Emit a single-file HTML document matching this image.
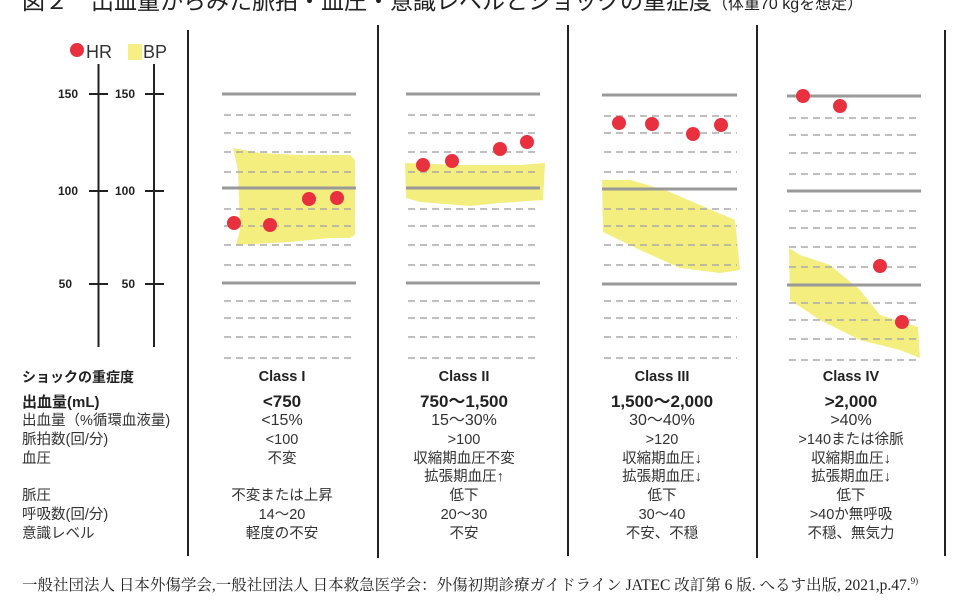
<!DOCTYPE html>
<html><head><meta charset="utf-8"><style>
body{margin:0;width:960px;height:600px;overflow:hidden;background:#fff;position:relative;font-family:"Liberation Sans","Noto Sans CJK JP",sans-serif;color:#222}
.t{position:absolute;white-space:nowrap}
.c{position:absolute;text-align:center;width:180px;font-size:14.5px;line-height:19px;color:#333}
.l{position:absolute;left:22px;font-size:14.5px;color:#333;line-height:19px}
</style></head><body>
<div class="t" style="left:22px;top:-18px;font-size:23px;color:#222">図２　出血量からみた脈拍・血圧・意識レベルとショックの重症度<span style="font-size:16px">（体重70 kgを想定）</span></div>
<svg width="960" height="600" style="position:absolute;left:0;top:0">
<g stroke="#222" stroke-width="2">
<line x1="188" y1="30" x2="188" y2="556"/><line x1="378" y1="25" x2="378" y2="558"/>
<line x1="568" y1="25" x2="568" y2="556"/><line x1="757" y1="25" x2="757" y2="558"/>
<line x1="945" y1="30" x2="945" y2="556"/>
<line x1="98.5" y1="64" x2="98.5" y2="347"/><line x1="154" y1="64" x2="154" y2="347"/>
<line x1="89" y1="94" x2="108" y2="94"/><line x1="89" y1="191" x2="108" y2="191"/><line x1="89" y1="284" x2="108" y2="284"/>
<line x1="145" y1="94" x2="164" y2="94"/><line x1="145" y1="191" x2="164" y2="191"/><line x1="145" y1="284" x2="164" y2="284"/>
</g>
<g font-size="12" font-weight="bold" fill="#222" text-anchor="end" font-family="Liberation Sans,sans-serif">
<text x="78" y="98">150</text><text x="78" y="195">100</text><text x="72" y="288">50</text>
<text x="135" y="98">150</text><text x="135" y="195">100</text><text x="135" y="288">50</text>
</g>
<circle cx="77" cy="50" r="7" fill="#e8303f"/>
<text x="86" y="58" font-size="18" fill="#333">HR</text>
<rect x="128" y="44" width="14" height="16" fill="#f5ef84"/>
<text x="143" y="58" font-size="18" fill="#333">BP</text>
<g fill="#f4ee7f">
<polygon points="233,148 260,153 300,155 350,155 355,160 355,235 350,238 330,238 290,242 236,245 240,230 238,170"/>
<polygon points="405,163 460,165 520,165 545,163 543,200 500,203 470,206 420,202 406,198"/>
<polygon points="602,180 630,180 665,190 700,205 735,220 740,270 720,273 680,268 640,250 603,232"/>
<polygon points="789,248 800,255 830,265 860,290 880,315 918,327 920,358 900,350 860,340 820,320 790,300"/>
</g>
<g stroke="#999" stroke-width="3">
<line x1="222" y1="94" x2="356" y2="94"/><line x1="222" y1="188" x2="356" y2="188"/><line x1="222" y1="283" x2="356" y2="283"/>
<line x1="406" y1="94" x2="540" y2="94"/><line x1="406" y1="188" x2="540" y2="188"/><line x1="406" y1="283" x2="540" y2="283"/>
<line x1="602" y1="95" x2="737" y2="95"/><line x1="602" y1="189" x2="737" y2="189"/><line x1="602" y1="284" x2="737" y2="284"/>
<line x1="787" y1="96" x2="921" y2="96"/><line x1="787" y1="191" x2="921" y2="191"/><line x1="787" y1="285" x2="921" y2="285"/>
</g>
<g stroke="#aaa" stroke-width="1.5" stroke-dasharray="7,5">
<path d="M224 115H356M224 133H356M224 152H356M224 172H356M224 209H356M224 226H356M224 245H356M224 265H356M224 301H356M224 318H356M224 337H356M224 358H356"/>
<path d="M408 115H540M408 133H540M408 152H540M408 172H540M408 209H540M408 226H540M408 245H540M408 265H540M408 301H540M408 318H540M408 337H540M408 358H540"/>
<path d="M604 116H737M604 133H737M604 152H737M604 172H737M604 209H737M604 226H737M604 245H737M604 265H737M604 301H737M604 318H737M604 337H737M604 358H737"/>
<path d="M789 118H921M789 135H921M789 153H921M789 174H921M789 211H921M789 228H921M789 247H921M789 267H921M789 303H921M789 320H921M789 339H921M789 360H921"/>
</g>
<g fill="#e8303f">
<circle cx="234" cy="223" r="7"/><circle cx="270" cy="225" r="7"/><circle cx="309" cy="199" r="7"/><circle cx="337" cy="198" r="7"/>
<circle cx="423" cy="165" r="7"/><circle cx="452" cy="161" r="7"/><circle cx="500" cy="149" r="7"/><circle cx="527" cy="142" r="7"/>
<circle cx="619" cy="123" r="7"/><circle cx="652" cy="124" r="7"/><circle cx="693" cy="134" r="7"/><circle cx="721" cy="125" r="7"/>
<circle cx="803" cy="96" r="7"/><circle cx="840" cy="106" r="7"/><circle cx="880" cy="266" r="7"/><circle cx="902" cy="322" r="7"/>
</g>
</svg>
<div class="l" style="top:368px;font-weight:bold;font-size:14px;color:#222">ショックの重症度</div>
<div class="l" style="top:393px;font-weight:bold;font-size:15px;color:#222">出血量(mL)</div>
<div class="l" style="top:412px;line-height:18.8px">出血量（%循環血液量)<br>脈拍数(回/分)<br>血圧<br><br>脈圧<br>呼吸数(回/分)<br>意識レベル</div>
<div class="c" style="left:192px;top:368px;font-weight:bold;color:#222">Class I</div>
<div class="c" style="left:374px;top:368px;font-weight:bold;color:#222">Class II</div>
<div class="c" style="left:572px;top:368px;font-weight:bold;color:#222">Class III</div>
<div class="c" style="left:761px;top:368px;font-weight:bold;color:#222">Class IV</div>
<div class="c" style="left:192px;top:392px;font-weight:bold;font-size:17px;color:#222">&lt;750</div>
<div class="c" style="left:374px;top:392px;font-weight:bold;font-size:17px;color:#222">750～1,500</div>
<div class="c" style="left:572px;top:392px;font-weight:bold;font-size:17px;color:#222">1,500～2,000</div>
<div class="c" style="left:761px;top:392px;font-weight:bold;font-size:17px;color:#222">&gt;2,000</div>
<div class="c" style="left:192px;top:412px;line-height:18.8px"><span style="font-size:16px">&lt;15%</span><br>&lt;100<br>不変<br><br>不変または上昇<br>14～20<br>軽度の不安</div>
<div class="c" style="left:374px;top:412px;line-height:18.8px"><span style="font-size:16px">15～30%</span><br>&gt;100<br>収縮期血圧不変<br>拡張期血圧↑<br>低下<br>20～30<br>不安</div>
<div class="c" style="left:572px;top:412px;line-height:18.8px"><span style="font-size:16px">30～40%</span><br>&gt;120<br>収縮期血圧↓<br>拡張期血圧↓<br>低下<br>30～40<br>不安、不穏</div>
<div class="c" style="left:761px;top:412px;line-height:18.8px"><span style="font-size:16px">&gt;40%</span><br>&gt;140または徐脈<br>収縮期血圧↓<br>拡張期血圧↓<br>低下<br>&gt;40か無呼吸<br>不穏、無気力</div>
<div class="t" style="left:22px;top:573px;font-size:15.5px;font-family:'Liberation Serif','Noto Serif CJK SC',serif;color:#222">一般社団法人 日本外傷学会,一般社団法人 日本救急医学会：外傷初期診療ガイドライン JATEC 改訂第 6 版. へるす出版, 2021,p.47.<sup style="font-size:9px">9)</sup></div>
</body></html>
